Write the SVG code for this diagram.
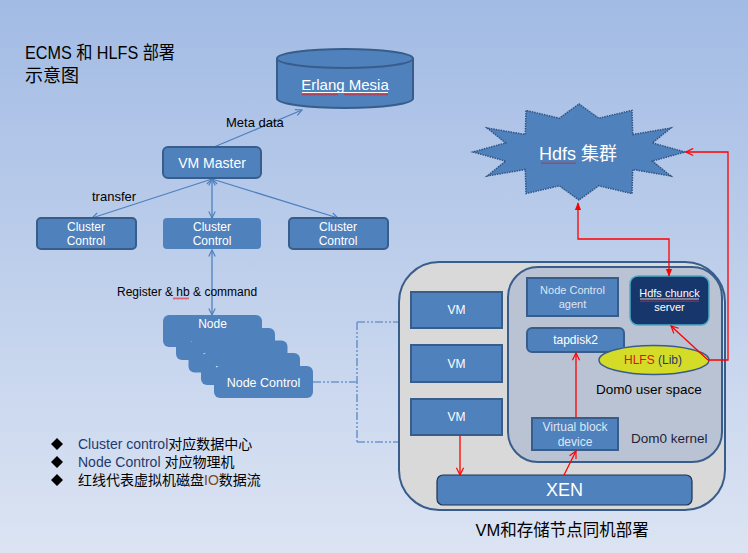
<svg xmlns="http://www.w3.org/2000/svg" width="748" height="553" viewBox="0 0 748 553">
<defs>
  <linearGradient id="bg" x1="0" y1="0" x2="0" y2="1">
    <stop offset="0" stop-color="#a2bbe4"/>
    <stop offset="1" stop-color="#dce4f3"/>
  </linearGradient>
  <pattern id="squig" width="4" height="3" patternUnits="userSpaceOnUse">
    <path d="M0,2.5 L1,0.5 L2,2.5 L3,0.5 L4,2.5" fill="none" stroke="#e02020" stroke-width="0.6"/>
  </pattern>
  <marker id="ab" viewBox="0 0 10 10" refX="9" refY="5" markerWidth="8" markerHeight="8" orient="auto-start-reverse" markerUnits="userSpaceOnUse">
    <path d="M1,1 L9,5 L1,9" fill="none" stroke="#4f81bd" stroke-width="1.5"/>
  </marker>
  <marker id="ar" viewBox="0 0 10 10" refX="9" refY="5" markerWidth="9" markerHeight="9" orient="auto-start-reverse" markerUnits="userSpaceOnUse">
    <path d="M1,1 L9,5 L1,9" fill="none" stroke="#ff0000" stroke-width="1.3"/>
  </marker>
  <marker id="arf" viewBox="0 0 10 10" refX="9" refY="5" markerWidth="8" markerHeight="8" orient="auto-start-reverse" markerUnits="userSpaceOnUse">
    <path d="M0,1 L10,5 L0,9 Z" fill="#ff0000"/>
  </marker>
  <style>
    text { font-family: "Liberation Sans", "Noto Sans CJK SC", sans-serif; }
    .box { fill: #4f81bd; stroke: #385d8a; stroke-width: 2; }
    .boxn { fill: #4f81bd; }
    .w { fill: #ffffff; text-anchor: middle; }
    .lw { fill: #dce6f2; text-anchor: middle; }
    .k { fill: #000000; }
    .blue { stroke: #4f81bd; stroke-width: 1.3; fill: none; }
    .red { stroke: #ff0000; stroke-width: 1.3; fill: none; }
  </style>
</defs>

<rect width="748" height="553" fill="url(#bg)"/>

<!-- title -->
<g id="title">
  <text x="25" y="59" font-size="18" class="k" textLength="150" lengthAdjust="spacingAndGlyphs">ECMS 和 HLFS 部署</text>
  <text x="25" y="82" font-size="18" class="k">示意图</text>
</g>

<!-- connectors -->
<g id="connectors">
  <line x1="214" y1="147" x2="302" y2="110" class="blue" marker-end="url(#ab)"/>
  <line x1="212" y1="179" x2="92" y2="218" class="blue" marker-start="url(#ab)" marker-end="url(#ab)"/>
  <line x1="212" y1="179" x2="212" y2="218" class="blue" marker-start="url(#ab)" marker-end="url(#ab)"/>
  <line x1="212" y1="179" x2="338" y2="218" class="blue" marker-start="url(#ab)" marker-end="url(#ab)"/>
  <line x1="212" y1="250" x2="212" y2="315" class="blue" marker-start="url(#ab)" marker-end="url(#ab)"/>
  <path d="M313,382 H357 M357,322 V442 M357,322 H399 M357,442 H399" fill="none" stroke="#6f96cd" stroke-width="1.6" stroke-dasharray="8 2 2 2 2 2"/>
</g>

<g id="labels">
  <text x="226" y="127" font-size="13" class="k">Meta data</text>
  <text x="92" y="201" font-size="13" class="k">transfer</text>
  <text x="117" y="296" font-size="12" class="k">Register &amp; hb &amp; command</text>
  <rect x="173" y="297" width="16" height="3" fill="url(#squig)"/>
</g>

<!-- Erlang Mesia -->
<g id="erlang">
  <path d="M277,58.5 V98.5 A68,9.5 0 0 0 413,98.5 V58.5" class="box"/>
  <ellipse cx="345" cy="58.5" rx="68" ry="9.5" class="box"/>
  <text x="345" y="90" font-size="15" class="w">Erlang Mesia</text>
  <line x1="302" y1="92.5" x2="388" y2="92.5" stroke="#ffffff" stroke-width="1"/>
  <rect x="302" y="93" width="36" height="3" fill="url(#squig)"/>
  <rect x="344" y="93" width="44" height="3" fill="url(#squig)"/>
</g>

<!-- VM Master -->
<g id="vmmaster">
  <rect x="163" y="147" width="98" height="31" rx="5" class="box"/>
  <text x="212" y="168" font-size="14" class="w">VM Master</text>
</g>

<!-- Cluster controls -->
<g id="cc1">
  <rect x="37" y="218" width="99" height="31" rx="4" class="box"/>
  <text x="86" y="231" font-size="12" class="w">Cluster</text>
  <text x="86" y="245" font-size="12" class="w">Control</text>
</g>
<g id="cc2">
  <rect x="163" y="218" width="98" height="31" rx="4" class="boxn"/>
  <text x="212" y="231" font-size="12" class="w">Cluster</text>
  <text x="212" y="245" font-size="12" class="w">Control</text>
</g>
<g id="cc3">
  <rect x="289" y="218" width="99" height="31" rx="4" class="box"/>
  <text x="338" y="231" font-size="12" class="w">Cluster</text>
  <text x="338" y="245" font-size="12" class="w">Control</text>
</g>

<!-- Node stack -->
<g id="node1">
  <rect x="163" y="315" width="99" height="32" rx="6" class="boxn"/>
  <text x="212.5" y="328" font-size="12" class="w">Node</text>
</g>
<g id="node2">
  <rect x="176" y="328" width="99" height="32" rx="6" class="boxn"/>
  <text x="225.5" y="349.5" font-size="12" class="w">Node  Control</text>
</g>
<g id="node3">
  <rect x="188.5" y="340.5" width="99" height="32" rx="6" class="boxn"/>
  <text x="238" y="362" font-size="12" class="w">Node  Control</text>
</g>
<g id="node4">
  <rect x="201" y="353" width="99" height="32" rx="6" class="boxn"/>
  <text x="250.5" y="374.5" font-size="12" class="w">Node  Control</text>
</g>
<g id="node5">
  <rect x="214" y="366" width="99" height="32" rx="6" class="boxn"/>
  <text x="263.5" y="387" font-size="12.5" class="w">Node  Control</text>
</g>

<!-- Legend -->
<g id="legend">
  <path d="M57,438 L63,444 L57,450 L51,444 Z M57,456 L63,462 L57,468 L51,462 Z M57,474 L63,480 L57,486 L51,480 Z" fill="#000"/>
  <text x="78" y="449" font-size="14" class="k"><tspan fill="#1f3a6e">Cluster control</tspan>对应数据中心</text>
  <text x="78" y="467" font-size="14" class="k"><tspan fill="#1f3a6e">Node Control </tspan>对应物理机</text>
  <text x="78" y="485" font-size="14" class="k">红线代表虚拟机磁盘<tspan fill="#7a4a1a">IO</tspan>数据流</text>
</g>

<!-- Host container -->
<g id="host">
  <rect x="399" y="262" width="326" height="248" rx="40" fill="#d9d9d9" stroke="#385d8a" stroke-width="2"/>
</g>
<g id="dom0">
  <rect x="508" y="267" width="214" height="195" rx="30" fill="#b9c3d3" stroke="#385d8a" stroke-width="2"/>
  <text x="596" y="394" font-size="13.5" class="k">Dom0 user space</text>
  <text x="631" y="443" font-size="13.5" fill="#1f1f3a">Dom0 kernel</text>
</g>

<g id="vm1">
  <rect x="411" y="292" width="91" height="36" class="box"/>
  <text x="456.5" y="314" font-size="12" class="w">VM</text>
</g>
<g id="vm2">
  <rect x="411" y="345" width="91" height="37" class="box"/>
  <text x="456.5" y="368" font-size="12" class="w">VM</text>
</g>
<g id="vm3">
  <rect x="411" y="399" width="91" height="36" class="box"/>
  <text x="456.5" y="421" font-size="12" class="w">VM</text>
</g>

<g id="nca">
  <rect x="527" y="278" width="91" height="38" class="box"/>
  <text x="572.5" y="294" font-size="11" class="lw">Node Control</text>
  <text x="572.5" y="308" font-size="11" class="lw">agent</text>
</g>

<g id="chunk">
  <rect x="630" y="276" width="79" height="49" rx="8" fill="#17366b" stroke="#4bacc6" stroke-width="1.5"/>
  <text x="669.5" y="297" font-size="11" class="w">Hdfs chunck</text>
  <line x1="640" y1="299" x2="699" y2="299" stroke="#ffffff" stroke-width="0.8"/>
  <rect x="640" y="299" width="59" height="3" fill="url(#squig)"/>
  <text x="669.5" y="311" font-size="11" class="w">server</text>
</g>

<g id="tapdisk">
  <rect x="527" y="328" width="97" height="24" rx="5" class="box"/>
  <text x="575.5" y="344" font-size="12" class="w">tapdisk2</text>
</g>

<g id="hlfs">
  <ellipse cx="654" cy="360" rx="55" ry="14.5" fill="#d4dc28" stroke="#385d8a" stroke-width="1.5"/>
  <text x="653" y="364" font-size="12" text-anchor="middle"><tspan fill="#e01010">HLFS</tspan><tspan fill="#1f3a6e"> (Lib)</tspan></text>
</g>

<g id="vbd">
  <rect x="532" y="418" width="86" height="32" class="box"/>
  <text x="575" y="431" font-size="12" class="lw">Virtual block</text>
  <text x="575" y="446" font-size="12" class="lw">device</text>
</g>

<g id="xen">
  <rect x="437" y="475" width="255" height="30" rx="6" fill="#4f81bd" stroke="#1f3250" stroke-width="1.2"/>
  <text x="564.5" y="496" font-size="18" class="w">XEN</text>
</g>

<g id="caption">
  <text x="562" y="536" font-size="16.5" text-anchor="middle" class="k">VM和存储节点同机部署</text>
</g>

<!-- Hdfs star -->
<g id="hdfs">
  <polygon points="579,104 598.7,118.2 632,110.4 632.7,134.5 670.8,128 652.4,142.9 685,152 652.4,161.1 670.8,176 632.7,169.5 632,193.6 598.7,185.8 579,200 559.3,185.8 526,193.6 525.3,169.5 487.2,176 505.6,161.1 473,152 505.6,142.9 487.2,128 525.3,134.5 526,110.4 559.3,118.2" fill="#4f81bd" stroke="#2f5484" stroke-width="1.5" stroke-dasharray="1.5 1"/>
  <text x="578" y="160" font-size="18" class="w">Hdfs 集群</text>
  <rect x="541" y="161" width="35" height="3" fill="url(#squig)"/>
</g>

<!-- red data flow -->
<g id="redflow">
  <line x1="460" y1="435" x2="460" y2="475" class="red" marker-end="url(#ar)"/>
  <line x1="564" y1="475" x2="576" y2="451" class="red" marker-end="url(#ar)"/>
  <line x1="576" y1="418" x2="576" y2="353" class="red" marker-end="url(#ar)"/>
  <line x1="708" y1="360" x2="671" y2="326" class="red" marker-end="url(#ar)"/>
  <polyline points="708,360 728,360 728,152 686,152" class="red" marker-end="url(#ar)"/>
  <polyline points="578,203 578,239 669,239 669,276" class="red" marker-start="url(#arf)" marker-end="url(#arf)"/>
</g>
</svg>
